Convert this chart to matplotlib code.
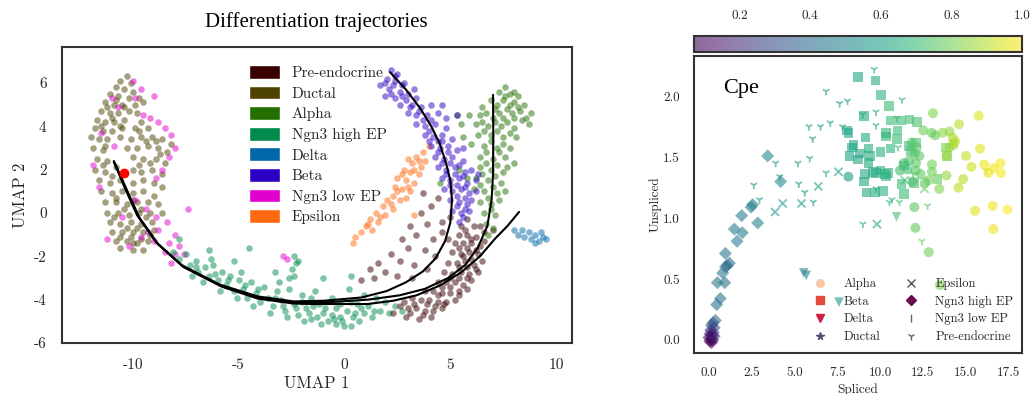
import numpy as np
import matplotlib
matplotlib.use('Agg')
import matplotlib.pyplot as plt
from matplotlib.patches import Patch
from matplotlib.lines import Line2D

plt.rcParams['font.family'] = 'cmr10'
plt.rcParams['axes.unicode_minus'] = False

# ---------------- left panel: UMAP clusters ----------------
ductal = [(-10.3,6.3),(-10.6,6.1),(-10.1,6.0),(-10.8,5.8),(-10.4,5.7),(-10.0,5.6),(-11.1,5.5),(-10.7,5.4),
          (-10.2,5.3),(-9.7,5.3),(-11.3,5.1),(-10.9,5.0),(-10.5,5.0),(-9.9,5.0),(-9.5,5.1),(-11.5,4.7),
          (-11.1,4.6),(-10.7,4.6),(-10.2,4.7),(-9.8,4.6),(-11.7,4.3),(-11.3,4.2),(-10.9,4.2),(-10.4,4.3),
          (-9.6,4.2),(-11.8,3.9),(-11.4,3.8),(-11.0,3.8),(-10.5,3.9),(-9.9,3.9),(-9.3,3.9),
          (-12.0,3.5),(-11.6,3.4),(-11.2,3.4),(-10.6,3.5),(-10.1,3.4),(-9.6,3.5),(-9.1,3.5),(-8.6,3.4),
          (-8.2,3.2),(-11.9,3.0),(-11.4,2.9),(-10.3,3.0),(-9.8,3.0),(-9.3,3.1),(-8.8,3.0),(-8.4,2.8),
          (-11.7,2.5),(-11.2,2.4),(-10.0,2.6),(-9.5,2.5),(-8.9,2.5),(-8.5,2.3),(-11.8,2.0),(-11.3,1.9),
          (-10.0,2.0),(-9.6,1.9),(-9.1,2.0),(-8.6,1.8),(-11.6,1.5),(-11.1,1.4),(-10.0,1.4),(-9.5,1.5),
          (-9.0,1.4),(-8.6,1.2),(-11.5,1.0),(-11.0,0.9),(-10.5,1.0),(-10.0,0.9),(-9.5,1.0),(-9.0,0.8),
          (-11.3,0.5),(-10.8,0.5),(-10.3,0.4),(-9.8,0.5),(-9.3,0.5),(-8.8,0.4),(-11.2,0.0),(-10.7,0.0),
          (-10.2,-0.1),(-9.7,0.0),(-9.2,0.0),(-8.6,0.0),(-11.1,-0.4),(-10.6,-0.5),(-10.1,-0.4),(-9.6,-0.5),
          (-9.1,-0.4),(-11.0,-0.9),(-10.5,-0.9),(-10.0,-0.9),(-9.5,-0.9),(-9.0,-0.8),(-10.8,-1.3),
          (-10.3,-1.3),(-9.8,-1.4),(-9.3,-1.3),(-10.6,-1.6),(-10.0,-1.7),(-9.5,-1.7),
          (-10.8,5.2),(-10.4,4.9),(-11.2,4.9),(-11.0,4.4),(-10.6,4.0),(-11.5,4.0),(-11.3,3.1),(-10.8,2.1),
          (-11.4,2.2),(-11.0,1.7),(-10.6,1.5),(-10.8,0.7),(-10.0,0.6),(-9.6,0.2),(-10.4,0.2),(-10.9,-0.2),
          (-9.4,-0.2),(-10.3,-0.7),(-9.8,-0.7),(-9.2,-1.0),(-10.1,-1.1),(-10.6,-1.1),(-9.6,-1.2),
          (-10.0,-1.4),(-9.7,3.8),(-9.4,3.3),(-8.9,3.3),(-8.7,2.7),(-9.2,2.3),(-9.7,2.2)]
ngn3_low = [(-10.0,6.1),(-9.6,5.7),(-9.9,5.3),(-9.0,5.4),(-10.7,4.9),(-9.2,4.4),(-8.8,4.2),(-9.5,4.5),
            (-8.5,3.9),(-8.2,3.6),(-8.0,3.0),(-8.3,2.6),(-8.6,2.0),(-8.9,1.6),(-11.9,2.2),(-11.6,1.2),
            (-9.9,0.6),(-9.4,0.2),(-8.9,-0.2),(-9.3,-0.9),(-10.2,-1.5),(-9.0,-1.3),(-8.8,-0.8),(-8.4,-0.4),
            (-8.0,-1.0),(-8.3,-1.4),(-7.8,-1.5),(-8.0,-1.9),(-7.6,-1.9),(-8.5,-1.8),(-9.6,-1.1),(-10.5,-0.2),
            (-11.2,-1.2),(-10.9,3.1),(-11.5,3.7),(-11.0,5.3),(-7.4,0.2),(-8.2,-2.3),(-2.9,-2.0),(-2.7,-2.1)]
ngn3_high = [(-8.1,-1.8),(-7.8,-2.1),(-7.5,-1.9),(-7.3,-2.4),(-7.0,-2.2),(-6.9,-2.7),(-6.6,-2.5),(-6.4,-2.9),
             (-6.2,-2.4),(-6.0,-3.1),(-5.8,-2.7),(-5.6,-3.3),(-5.4,-2.9),(-5.2,-3.6),(-5.0,-3.1),(-4.8,-3.5),
             (-4.6,-3.9),(-4.4,-3.2),(-4.2,-3.7),(-4.0,-4.1),(-3.8,-3.4),(-3.6,-3.9),(-3.4,-4.3),(-3.2,-3.6),
             (-3.0,-4.0),(-2.8,-4.5),(-2.6,-3.5),(-2.4,-4.2),(-2.2,-4.7),(-2.0,-3.8),(-1.8,-4.4),(-1.6,-4.9),
             (-1.4,-3.6),(-1.2,-4.2),(-1.0,-4.6),(-0.8,-5.0),(-0.6,-3.9),(-0.4,-4.4),(-0.2,-4.8),(0.0,-5.2),
             (0.2,-3.5),(0.3,-4.1),(0.5,-4.6),(0.7,-5.0),(0.9,-3.8),(1.1,-4.3),(1.3,-4.8),(1.5,-3.9),
             (1.7,-4.5),(1.9,-4.1),(2.1,-4.6),(2.4,-4.3),(2.7,-4.5),(-2.4,-2.0),(-2.3,-2.3),(-2.5,-2.6),
             (-2.4,-2.9),(-2.2,-2.2),(-4.5,-1.6),(-6.4,-1.7),(-7.8,-1.2),(-2.6,-3.0),(0.3,-2.9),(-1.0,-3.0),
             (-5.2,-2.2),(-3.3,-2.7),(-7.2,-2.9),(-6.7,-3.2),(-5.9,-3.6),(-5.1,-3.9),(-4.3,-4.3),(-3.5,-4.6),
             (-2.7,-4.8),(-1.9,-5.0),(-1.1,-5.1),(-0.4,-5.1),(0.3,-5.2),(-1.5,-4.3),(-0.6,-4.7),(0.1,-4.5),
             (0.8,-4.4),(-3.1,-3.2),(-4.9,-2.7),(-6.3,-2.1),
             (-7.0,-2.5),(-6.1,-2.8),(-5.5,-3.1),(-4.7,-3.3),(-4.1,-3.5),(-3.3,-3.9),(-2.9,-4.3),(-2.3,-4.4),
             (-1.7,-4.6),(-1.3,-4.8),(-0.9,-4.4),(-0.5,-4.9),(-0.1,-5.0),(0.4,-4.8),(0.9,-4.6),(1.4,-4.5),
             (-0.2,-4.2),(-1.6,-3.9),(-2.0,-4.1),(0.6,-4.2)]
pre_endo = [(5.8,-0.3),(5.5,-0.6),(6.1,-0.6),(5.4,-1.0),(5.8,-1.0),(6.2,-1.1),(6.6,-0.9),(5.2,-1.4),
            (5.6,-1.4),(6.0,-1.4),(6.4,-1.5),(5.1,-1.8),(5.5,-1.9),(5.9,-1.8),(6.3,-1.9),(4.9,-2.3),
            (5.3,-2.3),(5.7,-2.2),(6.1,-2.4),(6.5,-2.2),(4.7,-2.7),(5.1,-2.8),(5.5,-2.7),(5.9,-2.8),
            (6.3,-2.7),(4.4,-3.2),(4.8,-3.2),(5.2,-3.2),(5.6,-3.3),(6.0,-3.1),(3.8,-3.6),(4.2,-3.6),
            (4.6,-3.7),(5.0,-3.7),(5.4,-3.6),(5.8,-3.5),(3.2,-3.9),(3.6,-4.0),(4.0,-4.0),(4.4,-4.1),
            (4.8,-4.1),(5.2,-4.0),(2.6,-4.3),(3.0,-4.4),(3.4,-4.4),(3.8,-4.5),(4.2,-4.5),(4.6,-4.4),
            (2.3,-4.6),(2.9,-4.8),(3.5,-4.9),(4.1,-4.8),(6.6,-1.3),(7.0,-0.8),(5.0,-0.2),(4.6,-0.4),
            (4.1,0.3),(3.6,0.0),(3.9,-0.5),(3.1,-0.6),(3.4,-1.0),(4.2,-1.2),(2.7,-1.2),(3.0,-1.6),
            (3.8,-1.7),(4.3,-2.0),(2.2,-1.9),(2.6,-2.2),(3.3,-2.4),(3.9,-2.6),(1.6,-2.3),(1.9,-2.7),
            (2.5,-2.9),(3.2,-3.0),(1.2,-2.6),(1.4,-3.0),(0.8,-3.1),(4.6,-0.9),(4.4,0.7),(3.7,0.9),
            (5.7,-0.8),(6.0,-1.2),(5.4,-1.6),(5.8,-1.6),(6.2,-1.7),(5.6,-2.0),(6.0,-2.1),(5.4,-2.5),
            (5.8,-2.5),(6.2,-2.6),(5.0,-3.0),(5.4,-3.0),(5.8,-3.0),(4.6,-3.4),(5.0,-3.4),(5.4,-3.8),
            (4.4,-3.8),(3.9,-4.2),(4.3,-4.3),(4.7,-4.2),(3.3,-4.2),(3.1,-4.6),(3.7,-4.7),(2.8,-4.1),
            (6.4,-0.6),(4.9,-1.2)]
epsilon = [(3.7,2.8),(3.4,2.6),(3.8,2.4),(3.2,2.3),(3.6,2.1),(2.8,2.0),(3.1,1.9),(3.5,1.8),(2.5,1.6),
           (2.9,1.5),(3.3,1.4),(2.4,1.2),(2.7,1.1),(3.1,1.0),(2.3,0.8),(2.0,0.6),(2.6,0.6),(1.8,0.3),
           (2.3,0.2),(1.5,0.0),(1.9,-0.1),(1.2,-0.3),(1.6,-0.4),(1.0,-0.6),(0.8,-0.9),(1.3,-0.8),
           (0.5,-1.1),(0.4,-1.4),(3.0,2.5),(2.9,0.7),(4.0,3.1),(3.3,-0.1),
           (3.5,2.4),(3.3,2.0),(2.7,1.8),(3.0,1.2),(2.5,1.0),(2.2,0.4),(1.7,-0.2),(1.1,-0.5)]
alpha = [(7.3,5.6),(7.8,5.5),(8.2,5.4),(6.9,5.2),(7.5,5.2),(8.0,5.1),(8.5,5.0),(6.5,4.9),(7.1,4.8),
         (7.7,4.8),(8.3,4.7),(5.9,4.5),(6.4,4.5),(7.0,4.4),(7.5,4.4),(8.0,4.4),(8.6,4.4),(5.5,4.1),
         (6.2,4.1),(6.8,4.0),(7.4,4.0),(8.0,3.9),(8.7,4.1),(6.3,3.6),(6.9,3.6),(7.5,3.5),(8.1,3.5),
         (6.6,3.1),(7.2,3.0),(7.8,3.0),(6.4,2.6),(7.0,2.5),(7.6,2.6),(8.0,2.3),(6.4,2.1),(6.9,2.0),
         (7.5,1.9),(6.2,1.6),(6.8,1.5),(7.4,1.4),(6.1,1.1),(6.6,1.0),(7.2,0.9),(7.6,1.0),(6.4,0.5),
         (6.9,0.4),(7.3,0.6),(6.6,0.0),(7.1,-0.1),(6.7,-0.5),(7.0,-0.7),(6.8,-1.0),(7.6,5.8),(8.0,5.6),
         (8.8,4.6),(5.4,2.0),(5.8,1.6),(5.6,3.5),(5.3,4.5),(4.5,1.4),(6.0,3.2),(7.7,2.1),
         (7.6,5.4),(7.2,5.0),(7.8,5.0),(8.2,4.9),(6.7,4.6),(7.3,4.6),(7.9,4.6),(8.4,4.3),(6.5,4.2),
         (7.1,4.2),(7.7,4.2),(6.6,3.8),(7.2,3.8),(7.8,3.7),(6.9,3.3),(7.5,3.2),(6.7,2.8),(7.3,2.8),
         (6.7,2.3),(7.2,2.2),(6.5,1.8),(7.1,1.7),(6.4,1.3),(7.0,1.2),(6.8,0.7),(6.9,0.2)]
beta = [(2.2,6.6),(2.5,6.4),(2.0,6.2),(2.4,6.1),(2.8,6.0),(1.7,5.9),(2.1,5.7),(2.6,5.6),(3.0,5.5),
        (1.9,5.4),(2.4,5.3),(2.9,5.2),(3.4,5.3),(2.6,5.0),(3.1,4.9),(3.6,4.9),(4.1,5.0),(3.0,4.6),
        (3.4,4.5),(3.9,4.5),(4.4,4.6),(4.8,4.4),(5.3,4.5),(3.4,4.1),(3.8,4.0),(4.3,4.1),(4.8,3.9),
        (3.8,3.6),(4.2,3.5),(4.6,3.6),(5.1,3.4),(4.1,3.1),(4.5,3.0),(4.9,3.1),(5.3,2.9),(4.3,2.6),
        (4.7,2.5),(5.1,2.6),(5.6,2.4),(4.4,2.1),(4.8,2.0),(5.2,2.1),(5.7,1.9),(6.0,2.0),(4.6,1.6),
        (5.0,1.5),(5.4,1.6),(5.8,1.4),(6.2,1.5),(4.7,1.1),(5.1,1.0),(5.5,1.1),(5.9,0.9),(6.2,1.0),
        (5.0,0.6),(5.4,0.5),(5.8,0.4),(5.1,0.1),(5.5,0.0),(5.9,0.1),(5.4,-0.4),(5.6,-0.2),(2.7,5.9),
        (3.3,5.7),(4.6,5.0),(4.0,3.8),(4.4,3.3),(5.6,3.0),(6.3,1.8),(6.0,0.6),
        (2.3,5.9),(2.2,5.5),(2.7,5.4),(3.2,5.0),(3.5,4.7),(3.7,4.3),(4.1,4.3),(4.0,3.3),(4.6,3.3),
        (4.4,2.8),(4.9,2.8),(4.6,2.3),(5.0,2.3),(5.4,2.2),(4.8,1.8),(5.2,1.8),(5.6,1.7),(5.0,1.3),
        (5.3,1.3),(5.7,1.2),(5.3,0.8),(5.7,0.7),(5.3,0.3),(5.7,0.2),(1.9,6.0),(2.4,6.3)]
delta = [(8.2,-1.0),(8.5,-1.1),(8.8,-1.2),(9.0,-1.0),(9.2,-1.3),(9.4,-1.1),(8.7,-0.9),(9.0,-1.4),
         (8.4,-0.8),(9.5,-1.2),(8.0,-0.8),(9.3,-0.9)]

cluster_names = ['Pre-endocrine', 'Ductal', 'Alpha', 'Ngn3 high EP', 'Delta', 'Beta', 'Ngn3 low EP', 'Epsilon']
cluster_colors = ['#380000', '#4d4200', '#237000', '#008a4c', '#0068a8', '#2c00c4', '#e000d0', '#ff6a10']
cluster_points = [pre_endo, ductal, alpha, ngn3_high, delta, beta, ngn3_low, epsilon]
draw_order = [1, 6, 3, 0, 7, 2, 5, 4]

traj_beta = [(-10.9,2.4),(-10.4,1.2),(-9.8,-0.1),(-8.9,-1.35),(-7.7,-2.4),(-5.9,-3.3),(-4.1,-3.85),
             (-2.4,-4.08),(-1.0,-4.05),(0.8,-3.9),(2.0,-3.6),(2.9,-3.2),(3.7,-2.7),(4.3,-2.1),(4.75,-1.3),
             (5.0,-0.45),(5.08,0.6),(5.0,1.5),(4.8,2.3),(4.5,3.2),(4.1,4.0),(3.6,4.8),(2.9,5.7),(2.15,6.5)]
traj_alpha = [(-10.9,2.35),(-10.35,1.15),(-9.75,-0.15),(-8.85,-1.4),(-7.65,-2.45),(-5.85,-3.35),
              (-4.1,-3.9),(-2.4,-4.12),(-0.5,-4.1),(1.1,-4.0),(2.6,-3.8),(3.8,-3.5),(4.9,-3.0),(5.7,-2.4),
              (6.3,-1.6),(6.75,-0.6),(6.95,0.6),(7.02,1.8),(7.03,3.6),(7.02,5.45)]
traj_delta = [(-10.85,2.3),(-10.3,1.1),(-9.7,-0.2),(-8.8,-1.45),(-7.6,-2.5),(-5.8,-3.4),(-4.1,-3.95),
              (-2.4,-4.18),(-1.5,-4.2),(1.1,-4.2),(2.3,-4.05),(3.4,-3.8),(4.5,-3.35),(5.5,-2.75),
              (6.4,-2.0),(7.1,-1.2),(7.7,-0.6),(8.25,0.05)]
root_cell = (-10.4, 1.85)

# ---------------- right panel: phase portrait ----------------
# (spliced, unspliced, latent value)
ph_ngn3_high = [(3.43,1.51,0.50),(4.19,1.30,0.50),(2.55,1.11,0.47),(2.46,1.09,0.47),(2.85,0.96,0.48),
                (1.91,1.02,0.47),(1.48,0.91,0.46),(1.95,0.88,0.47),(1.64,0.81,0.46),(0.96,0.71,0.45),
                (1.19,0.63,0.40),(1.07,0.61,0.40),(0.96,0.60,0.41),(0.80,0.55,0.44),(0.92,0.47,0.44),
                (0.49,0.47,0.45),(0.66,0.34,0.44),(0.45,0.29,0.44),(0.37,0.16,0.38),(0.23,0.14,0.35),
                (0.15,0.12,0.30),(0.30,0.10,0.30),(0.10,0.08,0.25),(0.25,0.06,0.22),(0.05,0.05,0.20),
                (0.18,0.04,0.15),(0.00,0.02,0.12),(0.12,0.01,0.10),(0.22,0.00,0.10),(0.05,-0.01,0.08),
                (0.15,-0.02,0.08),(0.30,0.03,0.20)]
ph_pre_endo = [(9.66,2.22,0.62),(6.85,2.04,0.58),(7.64,1.94,0.58),(8.10,1.96,0.58),(11.29,1.97,0.68),
               (5.85,1.75,0.58),(6.52,1.75,0.58),(7.09,1.78,0.58),(7.81,1.75,0.58),(8.99,1.85,0.60),
               (9.77,1.87,0.63),(9.77,1.76,0.63),(11.00,1.82,0.68),(11.06,1.58,0.70),(6.06,1.65,0.58),
               (3.90,1.45,0.56),(5.20,1.45,0.57),(5.89,1.49,0.57),(6.85,1.37,0.58),(2.62,1.27,0.55),
               (2.95,1.15,0.56),(4.14,1.34,0.56),(5.25,1.28,0.57),(5.60,1.21,0.57),(6.10,1.13,0.57),
               (9.00,0.95,0.65),(10.55,1.13,0.67),(11.14,1.13,0.70),(11.94,1.36,0.74),(12.78,1.10,0.76),
               (12.45,0.81,0.80),(9.77,1.24,0.64),(14.30,1.62,0.85),(16.20,1.39,0.92),(10.70,1.15,0.68)]
ph_epsilon = [(7.57,1.38,0.60),(6.39,1.26,0.60),(4.31,1.12,0.57),(5.41,1.12,0.58),(3.86,1.05,0.57),
              (9.82,0.95,0.62),(11.45,1.31,0.72),(12.60,1.24,0.78),(14.30,1.61,0.86)]
ph_beta = [(8.73,2.16,0.63),(9.73,2.13,0.65),(10.06,2.01,0.68),(10.51,1.92,0.70),(9.06,1.84,0.63),
           (8.07,1.72,0.62),(8.15,1.70,0.62),(10.64,1.80,0.70),(11.21,1.80,0.70),(11.72,1.81,0.72),
           (12.16,1.79,0.73),(10.35,1.70,0.68),(10.35,1.67,0.68),(11.03,1.72,0.70),(9.16,1.66,0.64),
           (8.46,1.60,0.62),(8.36,1.58,0.62),(9.32,1.57,0.64),(10.62,1.57,0.68),(10.04,1.54,0.66),
           (11.00,1.65,0.70),(8.83,1.53,0.62),(8.21,1.51,0.61),(9.41,1.51,0.64),(8.73,1.48,0.62),
           (9.32,1.45,0.63),(11.66,1.59,0.72),(12.11,1.62,0.74),(13.86,1.58,0.80),(13.90,1.51,0.80),
           (9.14,1.36,0.63),(9.77,1.37,0.64),(10.04,1.39,0.65),(10.29,1.36,0.66),(10.35,1.34,0.66),
           (9.08,1.30,0.63),(9.22,1.21,0.64),(9.71,1.21,0.65),(10.19,1.22,0.66),(11.40,1.20,0.70),
           (11.25,1.28,0.70),(11.40,1.43,0.71),(12.00,1.29,0.72),(13.37,1.32,0.78),(9.60,1.38,0.64),
           (10.50,1.37,0.67),(11.80,1.55,0.72)]
ph_alpha = [(8.15,1.34,0.58),(13.10,1.86,0.82),(15.77,1.84,0.95),(14.62,1.77,0.90),(12.53,1.72,0.80),
            (13.02,1.70,0.80),(13.23,1.68,0.78),(13.66,1.70,0.84),(14.07,1.71,0.85),(14.25,1.66,0.88),
            (14.40,1.63,0.90),(14.28,1.60,0.88),(14.05,1.58,0.86),(13.90,1.51,0.86),(15.03,1.51,0.92),
            (15.85,1.57,0.95),(16.09,1.44,0.97),(16.34,1.37,0.98),(16.65,1.41,0.98),(17.04,1.45,0.99),
            (17.08,1.37,0.99),(15.35,1.42,0.93),(14.86,1.32,0.90),(14.59,1.25,0.90),(13.88,1.35,0.85),
            (13.04,1.44,0.80),(13.04,1.38,0.80),(12.84,1.31,0.79),(12.63,1.29,0.78),(13.47,1.24,0.82),
            (12.10,1.45,0.76),(12.10,1.39,0.76),(12.37,1.36,0.77),(12.30,1.51,0.77),(11.87,1.62,0.74),
            (12.14,1.58,0.75),(12.02,1.53,0.75),(11.70,1.47,0.74),(11.38,1.45,0.72),(11.17,1.39,0.72),
            (12.01,1.09,0.76),(12.07,0.92,0.78),(12.85,0.72,0.80),(15.56,1.06,0.96),(16.59,1.10,0.98),
            (17.45,1.07,1.00),(16.63,0.91,0.98),(13.51,0.45,0.82),(11.60,1.40,0.72),(11.90,1.30,0.74)]
ph_delta = [(10.97,1.01,0.73),(5.54,0.55,0.50),(5.69,0.53,0.50),(7.60,0.31,0.56)]
ph_ductal = [(0.10,0.05,0.10),(0.20,0.02,0.12)]
ph_ngn3_low = [(0.15,0.03,0.10)]

phase_groups = [(ph_pre_endo, '1', 34), (ph_epsilon, 'x', 34), (ph_ngn3_high, 'D', 44), (ph_beta, 's', 48),
                (ph_alpha, 'o', 52), (ph_delta, 'v', 48), (ph_ductal, '*', 40), (ph_ngn3_low, '|', 30)]

legend_names = ['Alpha', 'Beta', 'Delta', 'Ductal', 'Epsilon', 'Ngn3 high EP', 'Ngn3 low EP', 'Pre-endocrine']
legend_markers = ['o', 's', 'v', '*', 'x', 'D', '|', '1']
legend_colors = ['#f8c9a8', '#e64a3c', '#cc2244', '#5a4a6a', '#555555', '#6a0a50', '#666666', '#666666']

x_ticks = [0.0, 2.5, 5.0, 7.5, 10.0, 12.5, 15.0, 17.5]
y_ticks = [0.0, 0.5, 1.0, 1.5, 2.0]
cbar_ticks = [0.2, 0.4, 0.6, 0.8, 1.0]
vmin, vmax = 0.07, 1.0

spine_col = '#333333'
text_col = '#262626'

fig = plt.figure(figsize=(10.31, 3.94), dpi=100)

# left
ax = fig.add_axes([0.0601, 0.1294, 0.4947, 0.7513])
for i in draw_order:
    pts = np.array(cluster_points[i])
    ax.scatter(pts[:, 0], pts[:, 1], s=22, c=cluster_colors[i], alpha=0.5, linewidths=0)
for traj in [traj_delta, traj_alpha, traj_beta]:
    t = np.array(traj)
    ax.plot(t[:, 0], t[:, 1], color='black', lw=1.5, solid_capstyle='round')
ax.scatter([root_cell[0]], [root_cell[1]], s=50, c='red', zorder=5, linewidths=0)
ax.set_xlim(-13.35, 10.75)
ax.set_ylim(-6, 7.66)
ax.set_xticks([-10, -5, 0, 5, 10])
ax.set_yticks([-6, -4, -2, 0, 2, 4, 6])
ax.tick_params(axis='x', length=0, labelsize=11, colors=text_col, pad=11)
ax.tick_params(axis='y', length=0, labelsize=11, colors=text_col, pad=11)
ax.set_xlabel('UMAP 1', fontsize=12, color=text_col, labelpad=3)
ax.set_ylabel('UMAP 2', fontsize=12, color=text_col, labelpad=4)
for sp in ax.spines.values():
    sp.set_color(spine_col)
    sp.set_linewidth(1.5)
handles = [Patch(facecolor=c, edgecolor='white') for c in cluster_colors]
ax.legend(handles, cluster_names, loc='upper left', bbox_to_anchor=(0.34, 0.985), frameon=False,
          fontsize=11, handlelength=2.0, handleheight=1.0, labelspacing=0.36, handletextpad=0.8,
          labelcolor=text_col)
fig.text(0.307, 0.945, 'Differentiation trajectories', family='Liberation Serif', fontsize=15,
         ha='center', va='center')

# right
ax2 = fig.add_axes([0.6731, 0.1041, 0.3181, 0.7538])
sc = None
for pts, mk, sz in phase_groups:
    p = np.array(pts)
    lw = 1.3 if mk in ('1', 'x', '|') else 0
    s_ = ax2.scatter(p[:, 0], p[:, 1], c=p[:, 2], cmap='viridis', vmin=vmin, vmax=vmax, marker=mk,
                     s=sz, alpha=0.6, linewidths=lw)
    if sc is None:
        sc = s_
ax2.set_xlim(-0.88, 18.3)
ax2.set_ylim(-0.107, 2.33)
ax2.set_xticks(x_ticks)
ax2.set_yticks(y_ticks)
ax2.set_xticklabels(['%.1f' % v for v in x_ticks])
ax2.set_yticklabels(['%.1f' % v for v in y_ticks])
ax2.tick_params(length=0, labelsize=9.5, colors=text_col, pad=10)
ax2.set_xlabel('Spliced', fontsize=9.5, color=text_col, labelpad=3)
ax2.set_ylabel('Unspliced', fontsize=9.5, color=text_col, labelpad=1)
for sp in ax2.spines.values():
    sp.set_color(spine_col)
    sp.set_linewidth(1.5)
ax2.text(0.85, 2.06, 'Cpe', family='Liberation Serif', fontsize=16, va='center', ha='left')
lh = [Line2D([], [], ls='none', marker=m, color=c, markersize=5.5, markeredgewidth=1.0)
      for m, c in zip(legend_markers, legend_colors)]
ax2.legend(lh, legend_names, ncol=2, loc='lower right', bbox_to_anchor=(1.008, -0.005), frameon=False,
           fontsize=9, labelspacing=0.45, handletextpad=0.9, columnspacing=1.5, labelcolor=text_col)

cax = fig.add_axes([0.6731, 0.868, 0.3181, 0.0406])
cb = fig.colorbar(sc, cax=cax, orientation='horizontal', alpha=0.6)
cb.set_ticks(cbar_ticks)
cb.set_ticklabels(['%.1f' % v for v in cbar_ticks])
cax.xaxis.set_ticks_position('top')
cax.tick_params(length=0, labelsize=9.5, colors=text_col, pad=10)
cb.outline.set_edgecolor(spine_col)
cb.outline.set_linewidth(1.5)

fig.savefig('out.png', dpi=100)
